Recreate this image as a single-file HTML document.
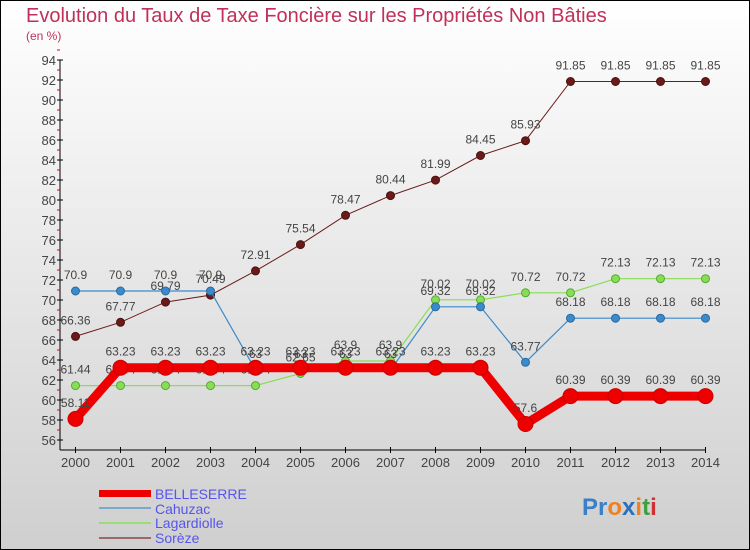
<!DOCTYPE html>
<html><head><meta charset="utf-8"><style>
body{margin:0;}
#c{width:750px;height:550px;position:relative;overflow:hidden;background:linear-gradient(#ffffff,#cfcfcf);font-family:"Liberation Sans",sans-serif;}
</style></head><body>
<div id="c">
<svg id="s" width="750" height="550" xmlns="http://www.w3.org/2000/svg">
<rect x="0.5" y="0.5" width="749" height="549" fill="none" stroke="#000"/>
<text x="26" y="22" font-size="20" fill="#c0305a">Evolution du Taux de Taxe Foncière sur les Propriétés Non Bâties</text>
<text x="26" y="40" font-size="12" fill="#c0305a">(en %)</text>
<g id="axes"></g><g id="series"></g>
<g>
<rect x="99" y="490" width="52" height="7" fill="#e00"/>
<text x="155" y="499" font-size="14" fill="#5555ee">BELLESERRE</text>
<rect x="99" y="507" width="52" height="2" fill="#7ba8cc"/>
<text x="155" y="514" font-size="14" fill="#5555ee">Cahuzac</text>
<rect x="99" y="522" width="52" height="2" fill="#99dd77"/>
<text x="155" y="528" font-size="14" fill="#5555ee">Lagardiolle</text>
<rect x="99" y="537" width="52" height="2" fill="#9a6a6a"/>
<text x="155" y="543" font-size="14" fill="#5555ee">Sorèze</text>
</g>
<text x="582" y="515" font-size="24" font-weight="bold"><tspan fill="#3a7fc8">Pr</tspan><tspan fill="#f08020">o</tspan><tspan fill="#2a70c0">x</tspan><tspan fill="#f08020">i</tspan><tspan fill="#40a040">t</tspan><tspan fill="#d03030">i</tspan></text>
</svg>
</div>
<script>
const years=[2000,2001,2002,2003,2004,2005,2006,2007,2008,2009,2010,2011,2012,2013,2014];
const belleserre=[58.11,63.23,63.23,63.23,63.23,63.23,63.23,63.23,63.23,63.23,57.6,60.39,60.39,60.39,60.39];
const cahuzac=[70.9,70.9,70.9,70.9,63,63,63,63,69.32,69.32,63.77,68.18,68.18,68.18,68.18];
const lagardiolle=[61.44,61.44,61.44,61.44,61.44,62.65,63.9,63.9,70.02,70.02,70.72,70.72,72.13,72.13,72.13];
const soreze=[66.36,67.77,69.79,70.49,72.91,75.54,78.47,80.44,81.99,84.45,85.93,91.85,91.85,91.85,91.85];
const yTicks=[56,58,60,62,64,66,68,70,72,74,76,78,80,82,84,86,88,90,92,94];
const NS="http://www.w3.org/2000/svg";
function X(i){return 75.5+i*45.0;}
function Y(v){return 440-(v-56)*10;}
function mk(t,a,p){const e=document.createElementNS(NS,t);for(const k in a)e.setAttribute(k,a[k]);p.appendChild(e);return e;}
const ax=document.getElementById('axes');
let l=mk('line',{x1:60,y1:Y(94),x2:60,y2:450,stroke:'#000'},ax);


l=mk('line',{x1:60,y1:450,x2:706,y2:450,stroke:'#000'},ax);


yTicks.forEach(v=>{
 const t=mk('line',{x1:57,y1:Y(v),x2:63,y2:Y(v),stroke:'#000'},ax);
 
 
 const m=mk('line',{x1:57,y1:Y(v+1),x2:60,y2:Y(v+1),stroke:'#e00'},ax);
 
 
 const tx=mk('text',{x:56,y:Y(v)+5,'font-size':13,'text-anchor':'end',fill:'#444'},ax);
 tx.textContent=v;
 
 
});
years.forEach((yr,i)=>{
 const t=mk('line',{x1:X(i),y1:447,x2:X(i),y2:453,stroke:'#000'},ax);
 
 
 const tx=mk('text',{x:X(i),y:467,'font-size':13,'text-anchor':'middle',fill:'#444'},ax);
 tx.textContent=yr;
 
 
});
const sg=document.getElementById('series');
function series(vals,name,color,lw,r,stroke){
 const g=mk('g',{},sg);
 
 
 const p=mk('polyline',{points:vals.map((v,i)=>X(i)+','+Y(v)).join(' '),fill:'none',stroke:color,'stroke-width':lw},g);
 
 
 vals.forEach((v,i)=>{
  const c=mk('circle',{cx:X(i),cy:Y(v),r:r,fill:color,stroke:stroke,'stroke-width':1},g);
  
  
  const t=mk('text',{x:X(i),y:Y(v)-12,'font-size':12,'text-anchor':'middle',fill:'#444'},g);
  t.textContent=String(v);
  
  
 });
}
series(soreze,'soreze','#6b1a1a',1,4,'#4a1010');
series(lagardiolle,'lagardiolle','#88dd55',1.2,4,'#55aa33');
series(cahuzac,'cahuzac','#3a8acc',1.2,4,'#2a6aa0');
series(belleserre,'belleserre','#ee0000',9,7.5,'#cc0000');
</script>
</body></html>
